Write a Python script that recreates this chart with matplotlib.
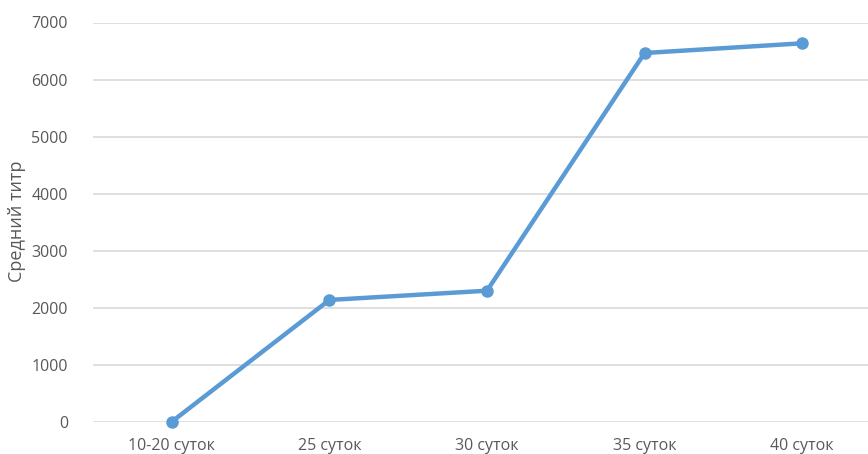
import matplotlib
matplotlib.use("Agg")
import matplotlib.pyplot as plt

categories = ["10-20 суток", "25 суток", "30 суток", "35 суток", "40 суток"]
values = [0, 2135, 2297, 6465, 6635]
yticks = [0, 1000, 2000, 3000, 4000, 5000, 6000, 7000]

plt.rcParams['font.family'] = ['Open Sans', 'DejaVu Sans']

W, H = 868, 454
fig = plt.figure(figsize=(W/100, H/100), dpi=100)
left, right = 93, 881
bottom, top = 421.7, 22.5
ax = fig.add_axes([left/W, 1 - bottom/H, (right-left)/W, (bottom-top)/H])

x = list(range(len(categories)))
ax.plot(x, values, color="#5B9BD5", linewidth=3.2, marker="o", markersize=8,
        solid_capstyle="round", solid_joinstyle="round", zorder=3, clip_on=False)

ax.set_xlim(-0.5, len(categories) - 0.5)
ax.set_ylim(0, 7000)
ax.set_yticks(yticks)
ax.set_xticks(x)
ax.set_xticklabels(categories)
ax.grid(axis="y", color="#D9D9D9", linewidth=1.2)
ax.set_axisbelow(True)
for s in ax.spines.values():
    s.set_visible(False)
ax.tick_params(axis="both", length=0, labelsize=11.5, colors="#595959")
ax.tick_params(axis="y", pad=18)
ax.tick_params(axis="x", pad=11.5)
ax.set_ylabel("Средний титр", fontsize=13, color="#595959")
ax.yaxis.set_label_coords((26 - left) / (right - left), 0.503)

fig.savefig("out.png", dpi=100)
